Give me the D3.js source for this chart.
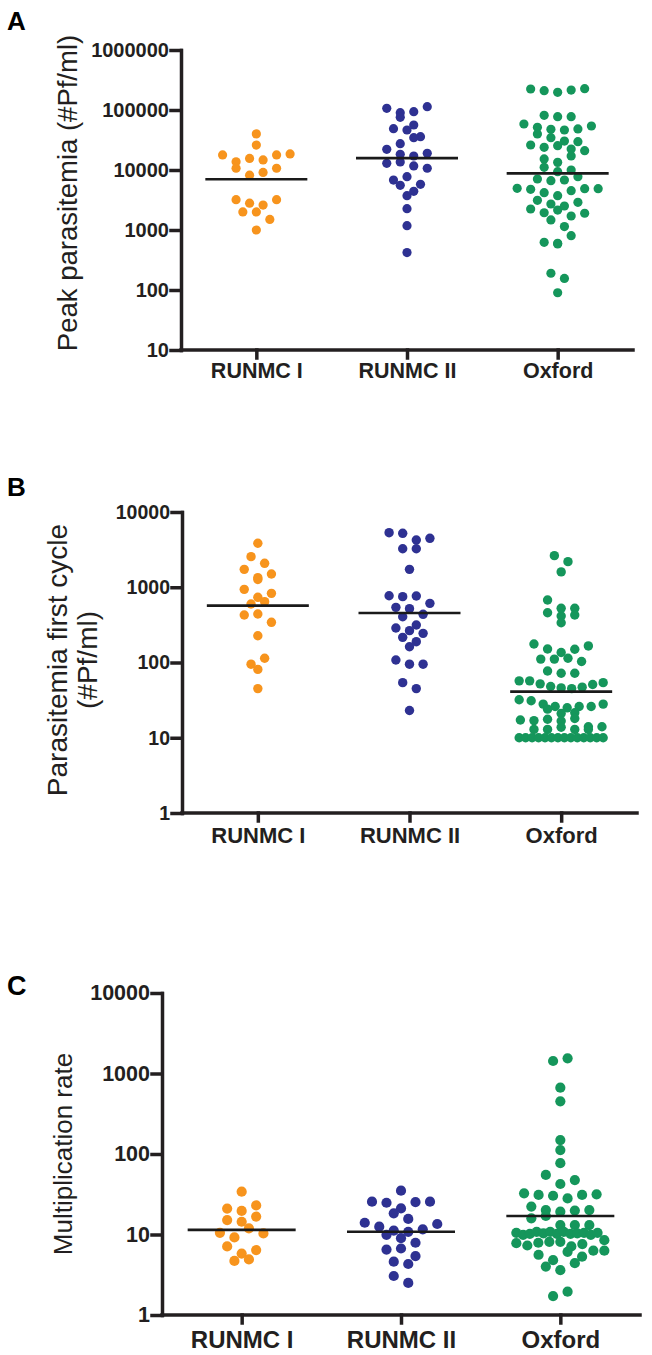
<!DOCTYPE html>
<html><head><meta charset="utf-8">
<script src="https://cdn.jsdelivr.net/npm/d3@7"></script>
<style>body{margin:0;background:#fff} svg{display:block} text{font-family:Arial,"Liberation Sans",Helvetica,sans-serif}</style>
</head><body><svg id="chart" width="652" height="1355"></svg>
<script>
const categories = ["RUNMC I", "RUNMC II", "Oxford"];
const groupColors = ["#f7941d", "#2e3192", "#15965b"];

// Panel A: Peak parasitemia
const runmc1A = [40000, 26000, 17800, 13700, 15600, 14700, 17800, 18500, 10700, 8200, 9100, 10700, 3200, 2800, 2600, 3200, 2000, 2000, 1500, 1000];
const runmc2A = [106600, 90300, 93800, 75500, 113700, 56200, 48900, 46400, 35900, 27500, 34600, 22100, 18300, 17100, 19000, 12900, 13600, 11700, 10700, 6800, 5550, 7740, 5770, 4410, 3730, 2270, 1180, 420];
const oxfordA = [224000, 210000, 197000, 215000, 227000, 81500, 77400, 77400, 58400, 51400, 47600, 46400, 48300, 54100, 39800, 34600, 30400, 26100, 23900, 25400, 29700, 22400, 21000, 15300, 13400, 17100, 11100, 9370, 10000, 7080, 6640, 6810, 7740, 4950, 4760, 4190, 3730, 4530, 4880, 4880, 3120, 2710, 2240, 1940, 2150, 1710, 2510, 2890, 1900, 1470, 1140, 623, 584, 600, 805, 190, 156, 90];
const centerA = [7000, 15800, 8800];
const ticksA = [10, 100, 1000, 10000, 100000, 1000000];

// Panel B: Parasitemia first cycle
const runmc1B = [3840, 2550, 2080, 1730, 1340, 1270, 1500, 938, 735, 599, 643, 830, 428, 441, 342, 227, 95, 81, 114, 45];
const runmc2B = [5310, 5210, 4250, 4470, 3250, 3250, 1730, 772, 750, 766, 611, 541, 519, 437, 406, 315, 287, 265, 244, 216, 189, 162, 108, 95, 95, 54, 45, 23];
const oxfordB = [2630, 2190, 1600, 677, 459, 415, 525, 525, 428, 338, 176, 151, 136, 111, 111, 114, 150, 166, 103, 77, 72, 72, 57, 57, 52, 48, 46, 45, 47, 51, 54, 32, 31, 28, 26, 25, 26, 24, 26, 28, 21, 21.5, 17.2, 16.9, 17.6, 16.7, 18, 14, 14, 12.9, 12.9, 13.8, 12.9, 12.9, 10, 10, 10, 10, 10, 10, 10, 10, 10, 10, 10, 10, 10, 10];
const centerB = [570, 455, 41];
const ticksB = [1, 10, 100, 1000, 10000];

// Panel C: Multiplication rate
const runmc1C = [34, 21, 19.6, 23, 15.1, 14.4, 16.7, 10.5, 9.2, 11.9, 10.3, 7.1, 5.8, 6.4, 4.7, 4.9];
const runmc2C = [35, 25.6, 24.8, 21.1, 25.3, 25.6, 18.3, 14.0, 12.5, 11.2, 10.8, 11.6, 13.5, 15.6, 9.9, 9.0, 7.9, 6.5, 6.7, 5.4, 4.6, 4.3, 3.05, 2.5];
const oxfordC = [1430, 1545, 667, 451, 149, 112, 77, 55, 42.4, 47.5, 32.5, 31, 30.3, 28.1, 31, 31.6, 22.2, 20.1, 19.2, 15.9, 17, 19.8, 20.1, 13.1, 13.1, 13.1, 10.5, 9.9, 10.2, 10.8, 10.3, 10.8, 10.2, 10.8, 10.2, 10.3, 10.5, 9.9, 10.5, 7.8, 7.3, 8.5, 7.9, 8.1, 8.1, 7.1, 7.6, 5.6, 4.8, 6.3, 6.1, 6.3, 5.3, 4.0, 3.6, 4.4, 1.72, 1.95];
const centerC = [11.4, 10.8, 17];
const ticksC = [1, 10, 100, 1000, 10000];

const titleA = ["Peak parasitemia (#Pf/ml)"];
const titleB = ["Parasitemia first cycle", "(#Pf/ml)"];
const titleC = ["Multiplication rate"];
const letters = ["A", "B", "C"];

const ink = "#231f20";
const svg = d3.select("#chart");

const panels = [
  {letter: letters[0], title: titleA, groups: [runmc1A, runmc2A, oxfordA], centers: centerA, ticks: ticksA,
   yr: [350, 50], xr: [181, 633], r: 4.6, slot: 13.5, maxHalf: 41, lineHalf: 51,
   tickFont: 20, catFont: 21.5, catPad: 5, titleFont: 27.5, titleX: [77], titleY: 193, letterXY: [7, 30], letterFont: 26},
  {letter: letters[1], title: titleB, groups: [runmc1B, runmc2B, oxfordB], centers: centerB, ticks: ticksB,
   yr: [813, 512], xr: [182, 637], r: 4.7, slot: 13.6, maxHalf: 42, lineHalf: 51,
   tickFont: 19.5, catFont: 22, catPad: 6, titleFont: 28, titleX: [67, 97], titleY: 660, letterXY: [7, 496], letterFont: 26},
  {letter: letters[2], title: titleC, groups: [runmc1C, runmc2C, oxfordC], centers: centerC, ticks: ticksC,
   yr: [1315, 993], xr: [162, 640], r: 5.1, slot: 14.5, maxHalf: 44, lineHalf: 54,
   tickFont: 21.5, catFont: 24, catPad: 8, titleFont: 26, titleX: [72], titleY: 1154, letterXY: [7, 995], letterFont: 27}
];

function swarm(values, y, cx, p) {
  const rowH = 1.8 * p.r;
  const pts = values.map((v, i) => ({v, i, py: y(v)}));
  const sorted = pts.slice().sort((a, b) => a.py - b.py || a.i - b.i);
  const rows = []; let cur = null;
  sorted.forEach(pt => {
    if (!cur || pt.py - cur.y0 > rowH) { cur = {y0: pt.py, pts: []}; rows.push(cur); }
    cur.pts.push(pt);
  });
  rows.forEach(row => {
    row.pts.sort((a, b) => a.i - b.i);
    const n = row.pts.length;
    const sp = n > 1 ? Math.min(p.slot, 2 * p.maxHalf / (n - 1)) : 0;
    row.pts.forEach((pt, k) => { pt.px = cx + (k - (n - 1) / 2) * sp; });
  });
  return pts;
}

panels.forEach(p => {
  const y = d3.scaleLog().domain([p.ticks[0], p.ticks[p.ticks.length - 1]]).range(p.yr);
  const x = d3.scalePoint().domain(categories).range(p.xr).padding(0.5);
  const g = svg.append("g");

  p.groups.forEach((vals, gi) => {
    const pts = swarm(vals, y, x(categories[gi]), p);
    g.append("g").selectAll("circle").data(pts).join("circle")
      .attr("cx", d => d.px).attr("cy", d => d.py).attr("r", p.r)
      .attr("fill", groupColors[gi]);
  });

  g.append("g").selectAll("line").data(p.centers).join("line")
    .attr("x1", (d, i) => x(categories[i]) - p.lineHalf)
    .attr("x2", (d, i) => x(categories[i]) + p.lineHalf)
    .attr("y1", d => y(d)).attr("y2", d => y(d))
    .attr("stroke", "#1a1a1a").attr("stroke-width", 2.6);

  const ya = g.append("g").attr("transform", `translate(${p.xr[0]},0)`)
    .call(d3.axisLeft(y).tickValues(p.ticks).tickFormat(d3.format("d")).tickSize(10).tickSizeOuter(0).tickPadding(2));
  ya.selectAll("text").attr("font-size", p.tickFont).attr("font-weight", "bold").attr("fill", ink)
    .attr("font-family", "Arial, 'Liberation Sans', sans-serif");

  const xa = g.append("g").attr("transform", `translate(0,${p.yr[0]})`)
    .call(d3.axisBottom(x).tickSize(8).tickSizeOuter(0).tickPadding(p.catPad));
  xa.select(".domain").attr("d", `M${p.xr[0]},0H${p.xr[1]}`);
  xa.selectAll("text").attr("font-size", p.catFont).attr("font-weight", "bold").attr("fill", ink)
    .attr("font-family", "Arial, 'Liberation Sans', sans-serif");

  g.selectAll(".domain, .tick line").attr("stroke", ink).attr("stroke-width", 3.5).attr("stroke-linecap", "square");

  p.title.forEach((t, i) => {
    g.append("text").attr("transform", `translate(${p.titleX[i]},${p.titleY}) rotate(-90)`)
      .attr("text-anchor", "middle").attr("font-size", p.titleFont).attr("fill", ink).text(t);
  });

  g.append("text").attr("x", p.letterXY[0]).attr("y", p.letterXY[1])
    .attr("font-size", p.letterFont).attr("font-weight", "bold").attr("fill", "#000").text(p.letter);
});
</script></body></html>
